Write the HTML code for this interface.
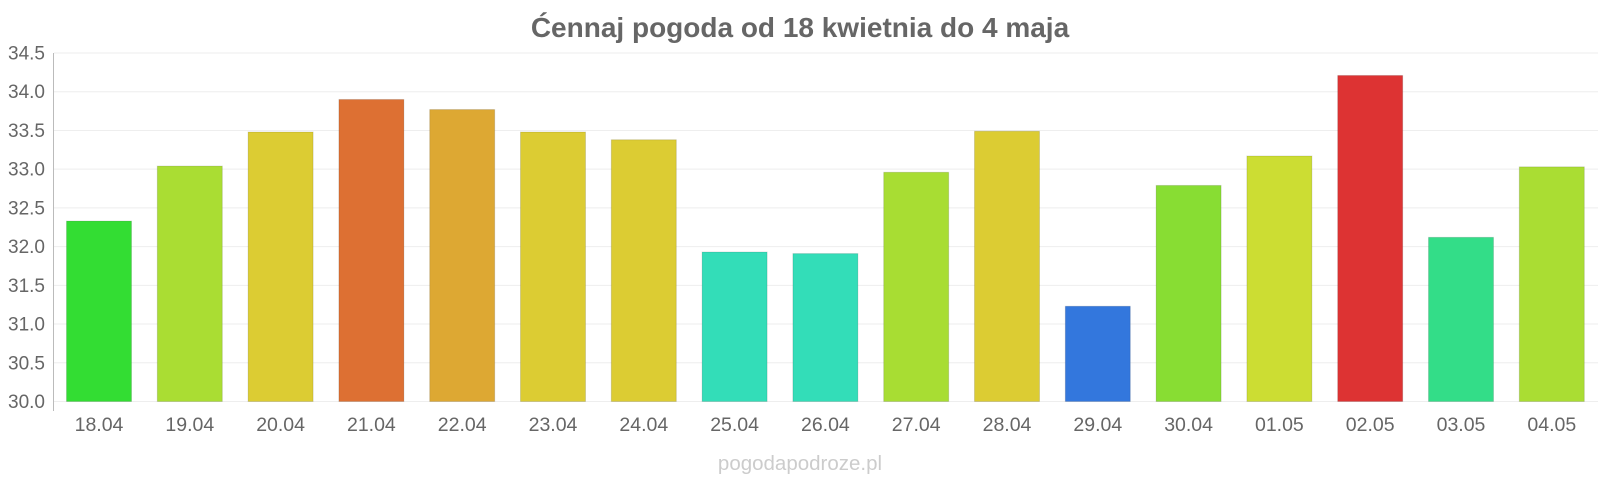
<!DOCTYPE html>
<html><head><meta charset="utf-8"><style>body{margin:0;background:#fff}svg{display:block}</style></head><body>
<svg width="1600" height="480" xmlns="http://www.w3.org/2000/svg" font-family="Liberation Sans, sans-serif">
<text x="800" y="37" text-anchor="middle" font-size="28" font-weight="bold" fill="#666">Ćennaj pogoda od 18 kwietnia do 4 maja</text>
<g id="grid" stroke="#eee" stroke-width="1"></g>
<line x1="53.5" x2="53.5" y1="53" y2="411" stroke="#bbb"/>
<g id="yl" font-size="19" fill="#666" text-anchor="end"></g>
<g id="bars"></g>
<g id="lbl" font-size="19.5" fill="#666" text-anchor="middle"></g>
<text x="800" y="470" text-anchor="middle" font-size="20.5" fill="#ccc">pogodapodroze.pl</text>
</svg>
<script>
(function(){
var v=[32.33,33.04,33.48,33.9,33.77,33.48,33.38,31.93,31.91,32.96,33.49,31.23,32.79,33.17,34.21,32.12,33.03];
var c=["#33dd33","#aadd33","#dccc33","#dd7033","#dda833","#dccc33","#dccc33","#33ddb8","#33ddb8","#a8dd33","#dccc33","#3377dd","#88dd33","#ccdd33","#dd3333","#33dd88","#aadd33"];
var d=["18.04","19.04","20.04","21.04","22.04","23.04","24.04","25.04","26.04","27.04","28.04","29.04","30.04","01.05","02.05","03.05","04.05"];
var T=53,B=401.5,k=(B-T)/4.5,slot=90.8,x0=53.6;
var g="",yl="";
for(var j=0;j<10;j++){var y=T+j*(B-T)/9;g+='<line x1="54" x2="1598" y1="'+y+'" y2="'+y+'"/>';yl+='<text x="45" y="'+(y+6.5)+'">'+(34.5-j*0.5).toFixed(1)+'</text>';}
document.getElementById("grid").innerHTML=g;document.getElementById("yl").innerHTML=yl;
var b="",l="";
for(var i=0;i<17;i++){var cx=x0+slot/2+i*slot;var y2=B-(v[i]-30)*k;
b+='<rect x="'+(cx-32.5)+'" y="'+y2+'" width="65" height="'+(B-y2)+'" fill="'+c[i]+'" stroke="rgba(0,0,0,0.12)" stroke-width="1"/>';
l+='<text x="'+cx+'" y="431">'+d[i]+'</text>';}
document.getElementById("bars").innerHTML=b;document.getElementById("lbl").innerHTML=l;
})();
</script>
</body></html>
